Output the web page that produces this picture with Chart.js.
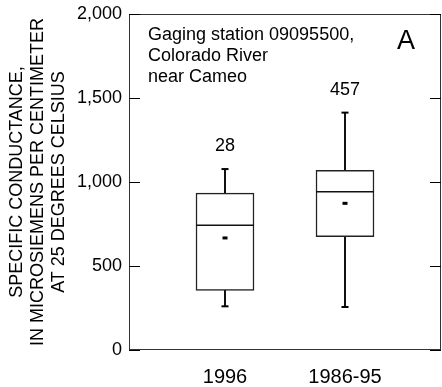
<!DOCTYPE html>
<html>
<head>
<meta charset="utf-8">
<script src="https://cdn.jsdelivr.net/npm/chart.js@4"></script>
<style>
  html, body { margin: 0; padding: 0; background: #fff; }
  #wrap { width: 442px; height: 387px; }
</style>
</head>
<body>
<div id="wrap"><canvas id="myChart" width="442" height="387"></canvas></div>
<script>
// DATA
const categories = ['1996', '1986-95'];
const mins    = [260, 256];
const q1s     = [355, 675];
const medians = [742, 942];
const q3s     = [934, 1069];
const maxs    = [1077, 1413];
const means   = [667, 873];
const counts  = [28, 457];
const yTicks  = [0, 500, 1000, 1500, 2000];

const FONT = '"Liberation Sans", Arial, Helvetica, sans-serif';

// each category sits at x = 1, 2, ...
const pos = categories.map((c, i) => i + 1);
const pts = arr => arr.map((v, i) => ({ x: pos[i], y: v }));
const spans = (a, b) => a.map((v, i) => ({ x: pos[i], y: [v, b[i]] }));

// frame, inside ticks, annotations
const decorPlugin = {
    id: 'decor',
    afterDatasetsDraw(chart) {
        const { ctx, chartArea: a, scales } = chart;
        const y = scales.y, x = scales.x;
        ctx.save();
        ctx.strokeStyle = '#333';
        ctx.lineWidth = 1;
        ctx.strokeRect(a.left + 0.5, a.top + 0.5, a.right - a.left - 1, a.bottom - a.top - 1);
        ctx.strokeStyle = '#000';
        yTicks.forEach(v => {
            const py = Math.round(y.getPixelForValue(v)) + 0.5;
            ctx.beginPath();
            ctx.moveTo(a.left, py); ctx.lineTo(a.left + 11, py);
            ctx.moveTo(a.right, py); ctx.lineTo(a.right - 11, py);
            ctx.stroke();
        });

        ctx.fillStyle = '#000';
        ctx.textBaseline = 'middle';
        ctx.font = '18px ' + FONT;
        ctx.textAlign = 'left';
        ['Gaging station 09095500,', 'Colorado River', 'near Cameo'].forEach((t, i) => {
            ctx.fillText(t, a.left + 19, a.top + 21 + i * 21);
        });
        ctx.font = '27px ' + FONT;
        ctx.textAlign = 'center';
        ctx.fillText('A', a.right - 35, a.top + 28);

        // number of samples above each box
        ctx.font = '18px ' + FONT;
        counts.forEach((n, i) => {
            ctx.fillText(String(n), x.getPixelForValue(pos[i]), y.getPixelForValue(maxs[i]) - 23);
        });
        ctx.restore();
    }
};

const ctx = document.getElementById('myChart');
new Chart(ctx, {
    type: 'bar',
    data: {
        datasets: [
            {   // whiskers
                label: 'upper',
                data: spans(q3s, maxs),
                backgroundColor: '#000',
                barThickness: 1.2,
                grouped: false,
                order: 3
            },
            {
                label: 'lower',
                data: spans(mins, q1s),
                backgroundColor: '#000',
                barThickness: 1.2,
                grouped: false,
                order: 3
            },
            {   // boxes
                label: 'box',
                data: spans(q1s, q3s),
                backgroundColor: '#fff',
                borderColor: '#222',
                borderWidth: 1.5,
                borderSkipped: false,
                barThickness: 58,
                grouped: false,
                order: 2
            },
            {
                type: 'scatter',
                label: 'median',
                data: pts(medians),
                pointStyle: 'line',
                pointRadius: 29,
                borderColor: '#111',
                borderWidth: 1.5,
                order: 1
            },
            {
                type: 'scatter',
                label: 'caps',
                data: pts(maxs).concat(pts(mins)),
                pointStyle: 'line',
                pointRadius: 3.5,
                borderColor: '#000',
                borderWidth: 2,
                order: 1
            },
            {
                type: 'scatter',
                label: 'mean',
                data: pts(means),
                pointStyle: 'line',
                pointRadius: 2.5,
                borderColor: '#000',
                borderWidth: 3,
                order: 0
            }
        ]
    },
    plugins: [decorPlugin],
    options: {
        responsive: false,
        animation: false,
        events: [],
        layout: { autoPadding: false, padding: { top: 14, right: 1, left: 0, bottom: 0 } },
        plugins: { legend: { display: false }, tooltip: { enabled: false } },
        scales: {
            x: {
                type: 'linear',
                offset: false,
                min: 0.2,
                max: 2.8,
                grid: { display: false },
                border: { display: false },
                afterBuildTicks: s => { s.ticks = pos.map(v => ({ value: v })); },
                afterFit: s => {
                    s.height = 37;
                    s.paddingLeft = 0; s.paddingRight = 0;
                },
                ticks: {
                    padding: 7,
                    color: '#000',
                    font: { family: FONT, size: 20 },
                    maxRotation: 0,
                    autoSkip: false,
                    callback: v => categories[v - 1]
                }
            },
            y: {
                min: 0,
                max: 2000,
                grid: { display: false, drawTicks: false },
                border: { display: false },
                afterBuildTicks: s => { s.ticks = yTicks.map(v => ({ value: v })); },
                afterFit: s => {
                    s.width = 129;
                    s.paddingTop = 0; s.paddingBottom = 0;
                },
                ticks: {
                    padding: 7,
                    color: '#000',
                    font: { family: FONT, size: 18 },
                    callback: v => v.toLocaleString('en-US')
                },
                title: {
                    display: true,
                    text: ['SPECIFIC CONDUCTANCE,', 'IN MICROSIEMENS PER CENTIMETER', 'AT 25 DEGREES CELSIUS'],
                    color: '#000',
                    font: { family: FONT, size: 18, lineHeight: 1.18 },
                    padding: { top: 6, bottom: 0 }
                }
            }
        }
    }
});
</script>
</body>
</html>
